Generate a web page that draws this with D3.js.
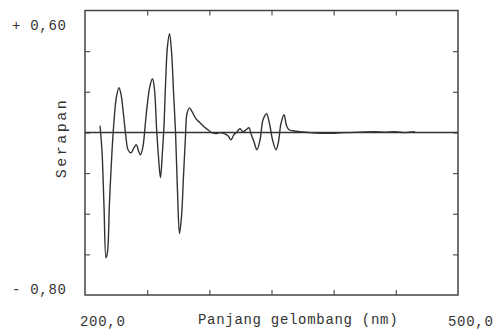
<!DOCTYPE html>
<html>
<head>
<meta charset="utf-8">
<script src="https://cdn.jsdelivr.net/npm/d3@7"></script>
<style>
  body { margin: 0; background: #fff; }
  text { font-family: "Liberation Mono", "DejaVu Sans Mono", monospace; fill: #333; }
</style>
</head>
<body>
<div id="chart"></div>
<script>
// derivative spectrum
var wavelength = [212.1, 213.7, 215.3, 216.9, 218.1, 219.7, 221.7, 223.3, 225.3, 227.3,
    228.9, 230.9, 232.9, 234.6, 237.0, 239.4, 241.4, 243.0, 244.6, 246.6,
    248.3, 249.9, 252.3, 254.3, 255.9, 257.5, 259.1, 260.7, 262.3, 263.5,
    264.7, 266.3, 268.0, 269.6, 271.2, 272.8, 274.4, 276.0, 277.6, 279.2,
    280.8, 282.0, 284.0, 286.1, 289.3, 292.5, 295.7, 298.9, 302.1, 305.4,
    308.6, 311.8, 315.0, 317.4, 319.8, 322.3, 324.7, 327.1, 329.5, 331.9,
    333.5, 335.9, 338.3, 340.8, 343.2, 346.0, 348.4, 350.8, 353.6, 355.6,
    357.6, 360.1, 362.1, 364.1, 367.3, 372.9, 381.0, 389.0, 401.1, 409.1,
    421.2, 433.2, 441.3, 449.3, 457.4, 465.4];
var absorbance = [0.033, -0.095, -0.366, -0.617, -0.588, -0.341, -0.095, 0.053, 0.176, 0.220,
    0.190, 0.092, -0.021, -0.085, -0.100, -0.075, -0.061, -0.090, -0.110, -0.070,
    0.028, 0.126, 0.230, 0.264, 0.210, 0.028, -0.120, -0.223, -0.095, 0.028,
    0.225, 0.422, 0.486, 0.397, 0.200, 0.003, -0.292, -0.498, -0.415, -0.218,
    -0.021, 0.092, 0.121, 0.102, 0.067, 0.048, 0.028, 0.013, -0.001, -0.006,
    -0.001, -0.006, -0.016, -0.036, -0.011, 0.003, 0.018, 0.003, 0.013, 0.023,
    -0.006, -0.046, -0.085, -0.036, 0.062, 0.092, 0.043, -0.036, -0.085, -0.046,
    0.043, 0.087, 0.033, 0.013, 0.008, 0.003, -0.001, -0.004, -0.004, -0.001,
    0.001, 0.003, 0.001, 0.003, -0.001, 0.003];

var xTicks = [250, 300, 350, 400, 450];
var yTicks = [0.4, 0.2, 0.0, -0.2, -0.4, -0.6];
var xEndLabels = ["200,0", "500,0"];
var yEndLabels = ["+ 0,60", "- 0,80"];
var xTitle = "Panjang gelombang (nm)";
var yTitle = "Serapan";

var width = 497, height = 332;
var margin = { top: 10.5, right: 39, bottom: 37, left: 85 };
var w = width - margin.left - margin.right;
var h = height - margin.top - margin.bottom;

var svg = d3.select("#chart").append("svg")
    .attr("width", width)
    .attr("height", height);

var x = d3.scaleLinear().domain([200, 500]).range([0, w]);
var y = d3.scaleLinear().domain([-0.8, 0.6]).range([h, 0]);

var g = svg.append("g")
    .attr("transform", "translate(" + margin.left + "," + margin.top + ")");

// inward ticks on all four sides
function styleAxis(sel) {
    sel.select(".domain").remove();
    sel.selectAll(".tick line").attr("stroke", "#555").attr("stroke-width", 1.2);
    sel.selectAll(".tick text").remove();
}
g.append("g").attr("transform", "translate(0," + h + ")")
    .call(d3.axisBottom(x).tickValues(xTicks).tickSize(-5)).call(styleAxis);
g.append("g")
    .call(d3.axisTop(x).tickValues(xTicks).tickSize(-5)).call(styleAxis);
g.append("g")
    .call(d3.axisLeft(y).tickValues(yTicks).tickSize(-5)).call(styleAxis);
g.append("g").attr("transform", "translate(" + w + ",0)")
    .call(d3.axisRight(y).tickValues(yTicks).tickSize(-5)).call(styleAxis);

// frame
g.append("rect")
    .attr("x", 0).attr("y", 0)
    .attr("width", w).attr("height", h)
    .attr("fill", "none")
    .attr("stroke", "#444")
    .attr("stroke-width", 1.5);

// zero line
g.append("line")
    .attr("x1", 0).attr("x2", w)
    .attr("y1", y(0)).attr("y2", y(0))
    .attr("stroke", "#333")
    .attr("stroke-width", 1.5);

var pts = wavelength.map(function (d, i) { return [d, absorbance[i]]; });
var line = d3.line()
    .x(function (d) { return x(d[0]); })
    .y(function (d) { return y(d[1]); })
    .curve(d3.curveCatmullRom.alpha(0.5));

g.append("path")
    .datum(pts)
    .attr("d", line)
    .attr("fill", "none")
    .attr("stroke", "#333")
    .attr("stroke-width", 1.4)
    .attr("stroke-linejoin", "round");

// labels, typewriter style
var fs = "14px", ls = "0.7px";
svg.append("text").attr("x", 12).attr("y", 30)
    .style("font-size", fs).style("letter-spacing", ls).attr("xml:space", "preserve")
    .text(yEndLabels[0]);
svg.append("text").attr("x", 12).attr("y", 294)
    .style("font-size", fs).style("letter-spacing", ls).attr("xml:space", "preserve")
    .text(yEndLabels[1]);
svg.append("text").attr("x", 80).attr("y", 326)
    .style("font-size", fs).style("letter-spacing", ls)
    .text(xEndLabels[0]);
svg.append("text").attr("x", 448).attr("y", 326)
    .style("font-size", fs).style("letter-spacing", ls)
    .text(xEndLabels[1]);
svg.append("text").attr("x", 198).attr("y", 324)
    .style("font-size", fs).style("letter-spacing", ls)
    .text(xTitle);
svg.append("text")
    .attr("transform", "translate(66,138) rotate(-90)")
    .attr("text-anchor", "middle")
    .style("font-size", "15px").style("letter-spacing", "2.5px")
    .text(yTitle);
</script>
</body>
</html>
